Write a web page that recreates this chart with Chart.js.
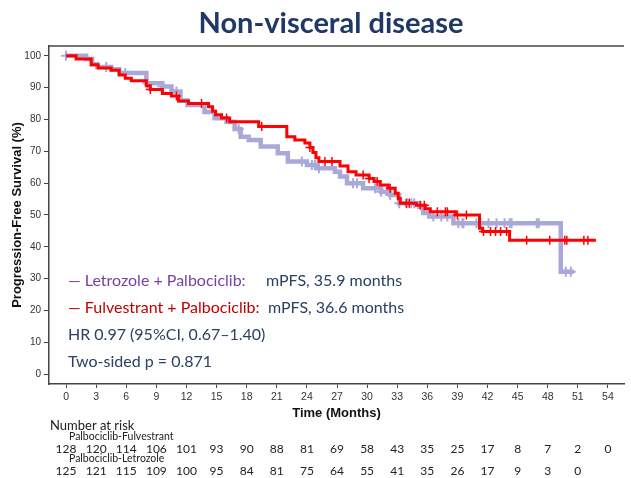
<!DOCTYPE html>
<html lang="en">
<head>
<meta charset="UTF-8">
<title>Non-visceral disease</title>
<script src="https://cdn.jsdelivr.net/npm/chart.js"></script>
<style>
  body { margin: 0; background: #fff; }
  #wrap { position: relative; width: 631px; height: 478px; overflow: hidden; }
  #km { position: absolute; left: 0; top: 0; }
  h1 { position: absolute; left: 0; top: 4px; width: 662px; margin: 0; text-align: center;
       font: bold 29px Lato, sans-serif; line-height: 36px; color: #1f3864; }
  .note { position: absolute; left: 68px; font: 16px Lato, sans-serif; line-height: 20px;
          color: #2b4162; white-space: nowrap; }
  .note span.m { position: absolute; }
  .let { color: #7a3fa0; }
  .ful { color: #c00000; }
</style>
</head>
<body>
<div id="wrap">
  <canvas id="km" width="631" height="478"></canvas>
  <h1>Non-visceral disease</h1>
  <div class="note" style="top:270px"><span class="let">— Letrozole + Palbociclib:</span><span class="m" style="left:198px">mPFS, 35.9 months</span></div>
  <div class="note" style="top:297px"><span class="ful">— Fulvestrant + Palbociclib:</span><span class="m" style="left:200px">mPFS, 36.6 months</span></div>
  <div class="note" style="top:324px">HR 0.97 (95%CI, 0.67–1.40)</div>
  <div class="note" style="top:351px">Two-sided p = 0.871</div>
</div>

<script>
  // time axis ticks (months) and y ticks (%)
  const xTicks = [0, 3, 6, 9, 12, 15, 18, 21, 24, 27, 30, 33, 36, 39, 42, 45, 48, 51, 54];
  const yTicks = [0, 10, 20, 30, 40, 50, 60, 70, 80, 90, 100];

  // Kaplan-Meier steps: [month, PFS % after the drop]
  const fulvestrantSteps = [
    [0, 100], [1.0, 99.0], [2.5, 97.2], [3.2, 96.2], [4.5, 95.5], [5.3, 94.0], [5.9, 93.0],
    [6.5, 92.2], [8.0, 90.6], [8.4, 89.4], [9.6, 88.2], [10.5, 87.4], [11.2, 85.8], [12.2, 85.0],
    [14.2, 84.0], [14.6, 82.6], [14.9, 81.5], [15.5, 80.5], [16.3, 79.3], [19.2, 77.8],
    [22.0, 74.6], [22.8, 73.6], [23.8, 72.6], [24.3, 71.2], [24.6, 69.6], [24.9, 68.0],
    [25.2, 66.8], [27.3, 65.4], [28.1, 63.6], [28.9, 62.6], [30.2, 61.5], [30.7, 60.5],
    [31.3, 59.4], [32.1, 58.4], [32.8, 56.8], [33.1, 55.2], [33.3, 53.7], [34.9, 53.1],
    [35.8, 52.0], [36.3, 51.0], [38.8, 50.0], [41.2, 45.8], [41.5, 44.8], [44.2, 42.1], [52.8, 42.1]
  ];
  const letrozoleSteps = [
    [0, 100], [2.0, 99.0], [2.6, 97.4], [3.1, 96.5], [4.5, 95.8], [5.3, 94.6], [8.0, 91.4],
    [9.6, 90.4], [10.5, 88.8], [11.4, 86.0], [12.1, 84.6], [13.8, 82.4], [14.8, 80.4],
    [16.0, 79.3], [16.8, 77.0], [17.4, 74.6], [18.2, 73.6], [19.4, 71.5], [21.1, 69.4],
    [22.1, 66.8], [24.0, 65.7], [25.0, 64.7], [26.8, 63.6], [27.3, 62.1], [28.0, 60.0],
    [29.6, 58.4], [31.4, 57.3], [32.3, 56.3], [33.2, 53.7], [35.2, 52.6], [35.6, 50.6],
    [36.2, 49.5], [38.6, 47.4], [49.3, 32.2], [50.6, 32.2]
  ];

  // censored observations (months)
  const fulvestrantCensored = [
    8.4, 11.0, 13.5, 16.0, 19.5, 24.3, 25.8, 26.5, 29.6, 30.2, 31.0, 32.3, 33.9, 34.2, 35.3,
    35.7, 37.0, 37.8, 38.0, 39.0, 39.9, 41.6, 42.3, 42.8, 43.3, 43.9, 45.9, 48.2, 49.7, 49.9, 51.6, 52.0
  ];
  const letrozoleCensored = [
    0, 4.0, 5.9, 8.1, 9.6, 11.0, 17.2, 23.5, 24.5, 24.8, 25.2, 28.6, 29.0, 30.8, 31.4, 32.3,
    33.2, 34.0, 34.4, 34.7, 36.6, 37.4, 38.0, 39.1, 39.5, 39.6, 40.9, 41.3, 42.1, 42.9, 43.7,
    44.2, 44.4, 46.9, 47.1, 49.8, 50.3
  ];

  // number at risk under each x tick
  const riskFulvestrant = [128, 120, 114, 106, 101, 93, 90, 88, 81, 69, 58, 43, 35, 25, 17, 8, 7, 2, 0];
  const riskLetrozole = [125, 121, 115, 109, 100, 95, 84, 81, 75, 64, 55, 41, 35, 26, 17, 9, 3, 0];

  const RED = '#ff0000';
  const LAV = '#a9a9d9';

  const toPoints = steps => steps.map(([x, y]) => ({ x, y }));
  const survivalAt = (steps, t) => {
    let y = steps[0][1];
    for (const [x, v] of steps) if (x <= t) y = v;
    return y;
  };
  const censorPoints = (steps, times) => times.map(t => ({ x: t, y: survivalAt(steps, t) }));

  const frameAndRisk = {
    id: 'frameAndRisk',
    afterDraw(chart) {
      const { ctx, chartArea, scales } = chart;
      ctx.save();
      // top frame line
      ctx.strokeStyle = '#444';
      ctx.lineWidth = 1.5;
      ctx.beginPath();
      ctx.moveTo(chartArea.left, chartArea.top);
      ctx.lineTo(chartArea.right, chartArea.top);
      ctx.stroke();

      // number at risk table
      ctx.fillStyle = '#222';
      ctx.textBaseline = 'middle';
      ctx.textAlign = 'left';
      ctx.font = '13px Lato, sans-serif';
      ctx.fillText('Number at risk', 50, 426);
      ctx.font = '10.5px Lato, sans-serif';
      ctx.fillText('Palbociclib-Fulvestrant', 69, 437);
      ctx.fillText('Palbociclib-Letrozole', 69, 459);
      ctx.textAlign = 'center';
      ctx.font = '12px Lato, sans-serif';
      riskFulvestrant.forEach((n, i) => ctx.fillText(n, scales.x.getPixelForValue(xTicks[i]), 449));
      riskLetrozole.forEach((n, i) => ctx.fillText(n, scales.x.getPixelForValue(xTicks[i]), 471));
      ctx.restore();
    }
  };

  new Chart(document.getElementById('km'), {
    type: 'line',
    data: {
      datasets: [
        {
          label: 'Letrozole + Palbociclib',
          data: toPoints(letrozoleSteps),
          borderColor: LAV, borderWidth: 4.5, stepped: true, pointRadius: 0, order: 4
        },
        {
          type: 'scatter',
          label: 'Letrozole censored',
          data: censorPoints(letrozoleSteps, letrozoleCensored),
          pointStyle: 'cross', pointRadius: 5, borderColor: LAV, borderWidth: 2, order: 3
        },
        {
          label: 'Fulvestrant + Palbociclib',
          data: toPoints(fulvestrantSteps),
          borderColor: RED, borderWidth: 3, stepped: true, pointRadius: 0, order: 2
        },
        {
          type: 'scatter',
          label: 'Fulvestrant censored',
          data: censorPoints(fulvestrantSteps, fulvestrantCensored),
          pointStyle: 'cross', pointRadius: 4.5, borderColor: RED, borderWidth: 1.5, order: 1
        }
      ]
    },
    options: {
      responsive: false,
      animation: false,
      layout: { padding: { top: 46, right: 1, left: 0, bottom: 0 } },
      plugins: { legend: { display: false }, title: { display: false }, tooltip: { enabled: false } },
      scales: {
        x: {
          type: 'linear', min: -1.7, max: 55.6,
          afterBuildTicks: s => { s.ticks = xTicks.map(v => ({ value: v })); },
          afterFit: s => { s.height = 94; },
          ticks: { autoSkip: false, maxRotation: 0, padding: 3, color: '#333',
                   font: { size: 10.5, family: 'Liberation Sans' } },
          grid: { drawOnChartArea: false, tickLength: 4, color: '#444' },
          border: { color: '#444', width: 1.5 },
          title: { display: true, text: 'Time (Months)', color: '#111',
                   font: { size: 13, weight: 'bold', family: 'Liberation Sans' },
                   padding: { top: 0, bottom: 57 } }
        },
        y: {
          min: -3.1, max: 103.1,
          afterBuildTicks: s => { s.ticks = yTicks.map(v => ({ value: v })); },
          afterFit: s => { s.width = 49; },
          ticks: { padding: 3, color: '#333', font: { size: 10, family: 'Liberation Sans' } },
          grid: { drawOnChartArea: false, tickLength: 5, color: '#444' },
          border: { color: '#444', width: 1.5 },
          title: { display: true, text: 'Progression-Free Survival (%)', color: '#111',
                   font: { size: 13, weight: 'bold', family: 'Liberation Sans' },
                   padding: { top: 10, bottom: 0 } }
        }
      }
    },
    plugins: [frameAndRisk]
  });
</script>
</body>
</html>
